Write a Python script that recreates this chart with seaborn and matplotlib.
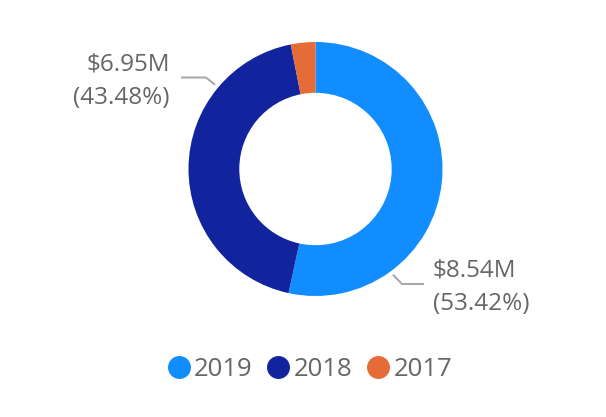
import matplotlib
matplotlib.use("Agg")
import matplotlib.pyplot as plt
import seaborn as sns
import numpy as np
from matplotlib.lines import Line2D

# data
years = ["2019", "2018", "2017"]
sales_m = [8.54, 6.95, 0.50]
pct_labels = ["53.42%", "43.48%", "3.10%"]
colors = ["#118DFF", "#12239E", "#E66C37"]

sns.set_theme(style="white")
plt.rcParams["font.family"] = ["Open Sans", "DejaVu Sans"]

W, H = 606, 417
fig = plt.figure(figsize=(W / 100, H / 100), dpi=100)
ax = fig.add_axes([0, 0, 1, 1])

cx, cy, r = 315.5, H - 169, 127
wedges, _ = ax.pie(sales_m, colors=colors, startangle=90, counterclock=False,
                   radius=r, center=(cx, cy), frame=True,
                   wedgeprops=dict(width=r * 0.4, linewidth=0))
ax.set_xlim(0, W)
ax.set_ylim(0, H)
ax.set_axis_off()

txt_color = "#666666"
line_color = "#AAAAAA"

# leader lines and labels (Power BI style)
def leader(angle_deg, elbow, end, side, idx, text_xy):
    a = np.deg2rad(angle_deg)
    x0, y0 = cx + (r + 4) * np.cos(a), cy + (r + 4) * np.sin(a)
    ax.plot([x0, elbow[0], end[0]], [y0, H - elbow[1], H - end[1]],
            color=line_color, lw=1.5, solid_capstyle="butt")
    ax.text(text_xy[0], H - text_xy[1],
            f"${sales_m[idx]:.2f}M\n({pct_labels[idx]})",
            ha=side, va="center", fontsize=17.5, color=txt_color, linespacing=1.5)

leader(140, (206, 77.5), (181, 77.5), "right", 1, (170, 81))
leader(-53.8, (402, 284), (424, 284), "left", 0, (433, 287))

handles = [Line2D([], [], marker="o", ls="", markersize=15.5, color=c) for c in colors]
fig.legend(handles, years, loc="center", bbox_to_anchor=(0.508, 1 - 369 / H), ncol=3,
           frameon=False, fontsize=18.5, handletextpad=0.0, columnspacing=0.4,
           labelcolor=txt_color, handlelength=1.2)

fig.savefig("out.png", dpi=100, facecolor="white")
